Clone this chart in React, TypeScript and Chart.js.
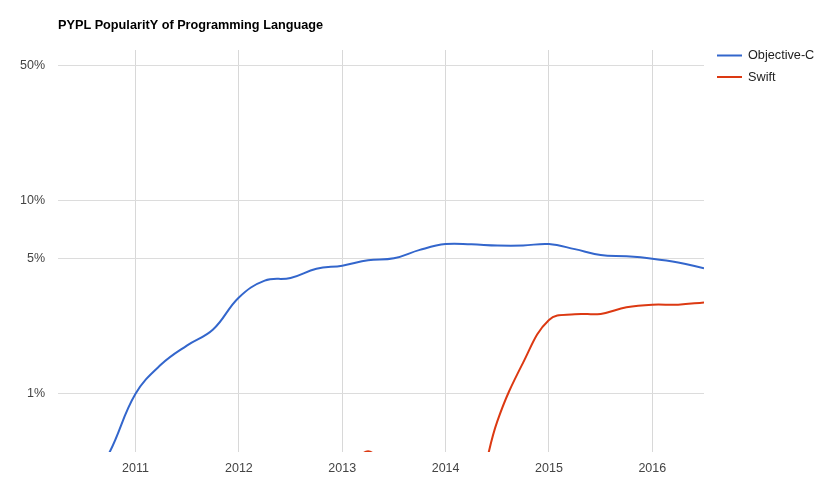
import React, { useEffect, useRef } from 'react';
import { Chart, registerables } from 'chart.js';

Chart.register(...registerables);

const chartTitle = 'PYPL PopularitY of Programming Language';

const objectiveCQuarters = [
  2010.5, 2010.75, 2011, 2011.25, 2011.5, 2011.75, 2012, 2012.25, 2012.5, 2012.75,
  2013, 2013.25, 2013.5, 2013.75, 2014, 2014.25, 2014.5, 2014.75, 2015, 2015.25,
  2015.5, 2015.75, 2016, 2016.25, 2016.5,
];
const objectiveCShare = [
  0.3, 0.5, 1.0, 1.42, 1.78, 2.15, 3.15, 3.85, 3.97, 4.43,
  4.6, 4.9, 5.02, 5.55, 5.95, 5.93, 5.85, 5.85, 5.95, 5.6,
  5.22, 5.14, 5.0, 4.78, 4.46,
];

const swiftQuarters = [
  2013, 2013.25, 2013.5, 2013.75, 2014, 2014.25, 2014.5, 2014.75, 2015, 2015.25,
  2015.5, 2015.75, 2016, 2016.25, 2016.5,
];
const swiftShare = [
  0.3, 0.505, 0.3, 0.2, 0.2, 0.25, 0.72, 1.45, 2.41, 2.58,
  2.59, 2.8, 2.89, 2.89, 2.97,
];

const yearTicks = [2011, 2012, 2013, 2014, 2015, 2016];
const percentTicks = [1, 5, 10, 50];

const FONT = '"Liberation Sans", Arial, sans-serif';

const overlayPlugin = {
  id: 'overlay',
  afterDraw(chart: any) {
    const { ctx, chartArea } = chart;
    ctx.save();
    ctx.font = `bold 12.7px ${FONT}`;
    ctx.fillStyle = '#000';
    ctx.textAlign = 'left';
    ctx.textBaseline = 'middle';
    ctx.fillText(chartTitle, chartArea.left, 25);

    ctx.font = `12.7px ${FONT}`;
    chart.data.datasets.forEach((ds: any, i: number) => {
      const y = 55.5 + i * 21.5;
      const x0 = chartArea.right + 13;
      ctx.strokeStyle = ds.borderColor;
      ctx.lineWidth = 2;
      ctx.beginPath();
      ctx.moveTo(x0, y);
      ctx.lineTo(x0 + 25, y);
      ctx.stroke();
      ctx.fillStyle = '#222';
      ctx.fillText(ds.label, x0 + 31, y);
    });
    ctx.restore();
  },
};

export default function App() {
  const canvasRef = useRef<HTMLCanvasElement | null>(null);

  useEffect(() => {
    document.body.style.margin = '0';
    const canvas = canvasRef.current;
    if (!canvas) return;
    const chart = new Chart(canvas, {
      type: 'line',
      data: {
        datasets: [
          {
            label: 'Objective-C',
            data: objectiveCQuarters.map((x, i) => ({ x, y: objectiveCShare[i] })),
            borderColor: '#3366cc',
            backgroundColor: '#3366cc',
            borderWidth: 2,
            pointRadius: 0,
            tension: 0.4,
          },
          {
            label: 'Swift',
            data: swiftQuarters.map((x, i) => ({ x, y: swiftShare[i] })),
            borderColor: '#dc3912',
            backgroundColor: '#dc3912',
            borderWidth: 2,
            pointRadius: 0,
            tension: 0.4,
          },
        ],
      },
      options: {
        responsive: false,
        animation: false,
        layout: { padding: { left: 0, right: 125, top: 50, bottom: 0 } },
        plugins: {
          legend: { display: false },
          title: { display: false },
          tooltip: { enabled: false },
        },
        scales: {
          x: {
            type: 'linear',
            min: 2010.25,
            max: 2016.5,
            afterBuildTicks: (scale: any) => {
              scale.ticks = yearTicks.map((v) => ({ value: v }));
            },
            afterFit: (scale: any) => {
              scale.height = 48;
            },
            grid: { color: '#d8d8d8', drawTicks: false, lineWidth: 1 },
            border: { display: false },
            ticks: {
              autoSkip: false,
              maxRotation: 0,
              padding: 9,
              color: '#444',
              font: { family: FONT, size: 12.5 },
              callback: (v: any) => String(v),
            },
          },
          y: {
            type: 'logarithmic',
            min: 0.5,
            max: 60,
            afterBuildTicks: (scale: any) => {
              scale.ticks = percentTicks.map((v) => ({ value: v }));
            },
            afterFit: (scale: any) => {
              scale.width = 58;
            },
            grid: { color: '#dcdcdc', drawTicks: false, lineWidth: 1 },
            border: { display: false },
            ticks: {
              padding: 13,
              color: '#444',
              font: { family: FONT, size: 12.5 },
              callback: (v: any) => `${v}%`,
            },
          },
        },
      },
      plugins: [overlayPlugin],
    });
    return () => chart.destroy();
  }, []);

  return (
    <div style={{ width: 829, height: 500, background: '#fff' }}>
      <canvas ref={canvasRef} width={829} height={500} style={{ width: 829, height: 500, display: 'block' }} />
    </div>
  );
}
